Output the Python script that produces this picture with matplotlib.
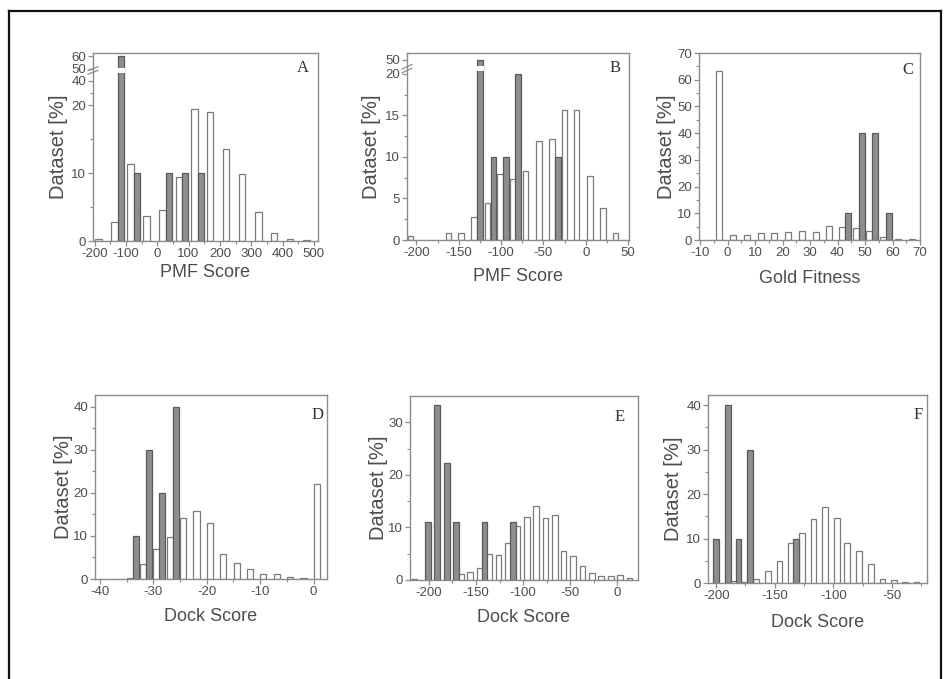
import numpy as np
import matplotlib
matplotlib.use("Agg")
import matplotlib.pyplot as plt
from matplotlib.ticker import FixedLocator
from matplotlib.transforms import blended_transform_factory
from matplotlib.lines import Line2D

# ---------------- data ----------------
A_white_x = [-188, -137, -86, -35, 16, 69, 118, 169, 220, 271, 323, 373, 424, 476]
A_white_y = [0.3, 2.8, 11.4, 3.7, 4.6, 9.5, 19.4, 19.0, 13.6, 9.8, 4.2, 1.2, 0.3, 0.2]
A_dark_x = [-116, -65, 37, 88, 139]
A_dark_y = [60, 10, 10, 10, 10]

B_white_x = [-207, -162, -147, -132, -116, -101, -86, -71, -55, -40, -25, -11, 5, 20, 35]
B_white_y = [0.5, 0.8, 0.8, 2.8, 4.5, 7.9, 7.3, 8.3, 11.9, 12.1, 15.7, 15.7, 7.7, 3.9, 0.8]
B_dark_x = [-125, -109, -94, -80, -33]
B_dark_y = [50, 10, 10, 20, 10]

C_white_x = [-3, 2, 7, 12, 17, 22, 27, 32, 37, 41.6, 46.8, 51.4, 56.5, 62, 67]
C_white_y = [63.4, 1.9, 1.9, 2.5, 2.5, 3.0, 3.5, 3.1, 5.1, 4.8, 4.4, 3.5, 1.2, 0.3, 0.3]
C_dark_x = [43.8, 48.8, 53.8, 58.8]
C_dark_y = [10, 40, 40, 10]

D_white_x = [-39.4, -36.9, -34.4, -31.9, -29.4, -26.9, -24.4, -21.9, -19.4, -16.9,
             -14.4, -11.9, -9.4, -6.9, -4.4, -1.9, 0.6]
D_white_y = [0.1, 0.1, 0.3, 3.5, 7.0, 9.7, 14.2, 15.7, 13.1, 5.8, 3.7, 2.3, 1.1, 1.1, 0.5, 0.3, 22.1]
D_dark_x = [-33.3, -30.8, -28.3, -25.8]
D_dark_y = [10, 30, 20, 40]

E_white_x = [-216, -166, -156, -146, -136, -126, -116, -106, -96, -86, -76, -66, -57, -47,
             -37, -27, -17, -7, 3, 13]
E_white_y = [0.2, 1.2, 1.6, 2.2, 5.0, 4.8, 7.1, 10.2, 11.9, 14.0, 11.7, 12.4, 5.6, 4.5,
             2.7, 1.3, 0.8, 0.7, 0.9, 0.3]
E_dark_x = [-201, -191, -181, -171, -141, -111]
E_dark_y = [11.1, 33.3, 22.2, 11.1, 11.1, 11.1]

F_white_x = [-185, -176, -166, -156, -146, -136, -127, -117, -107, -97, -88, -78, -68,
             -58, -48, -39, -29]
F_white_y = [0.5, 0.3, 1.0, 2.6, 4.9, 8.9, 11.3, 14.5, 17.2, 14.7, 9.1, 7.2, 4.2,
             0.9, 0.6, 0.2, 0.2]
F_dark_x = [-200, -190, -181, -171, -132]
F_dark_y = [10, 40, 10, 30, 10]

# ---------------- style ----------------
W, H = 948, 679
TXT = "#4d4d4d"
SPINE = "#8c8c8c"
DARK_FACE = "#8e8e8e"
DARK_EDGE = "#5a5a5a"
WHITE_EDGE = "#7a7a7a"
SANS = ["Liberation Sans", "DejaVu Sans"]
SERIF = ["Liberation Serif", "DejaVu Serif"]

plt.rcParams["font.family"] = SANS

fig = plt.figure(figsize=(W / 100, H / 100), dpi=100)
fig.patch.set_facecolor("white")

# outer frame
fr = dict(color="#111111", lw=1.6, transform=fig.transFigure)
fig.add_artist(Line2D([9 / W, 9 / W], [0, 1 - 11 / H], **fr))
fig.add_artist(Line2D([9 / W, 941 / W], [1 - 11 / H, 1 - 11 / H], **fr))
fig.add_artist(Line2D([941 / W, 941 / W], [0, 1 - 11 / H], **fr))


def make_axes(L, R, T, B):
    return fig.add_axes([L / W, 1 - B / H, (R - L) / W, (B - T) / H])


def piecewise(th, k):
    def fwd(y):
        y = np.asarray(y, float)
        return np.where(y <= th, y, th + (y - th) * k)

    def inv(z):
        z = np.asarray(z, float)
        return np.where(z <= th, z, th + (z - th) / k)
    return fwd, inv


def panel(rect, wx, wy, dx, dy, width, xlim, xticks, xminor, ylim, yticks, yminor,
          xlabel, letter, xlab_off, ylab_off, letter_off, scale=None, ytl=None):
    L, R, T, B = rect
    ax = make_axes(L, R, T, B)
    wpx, hpx = R - L, B - T
    if scale is not None:
        ax.set_yscale("function", functions=scale)
    ax.bar(wx, wy, width=width, color="white", edgecolor=WHITE_EDGE, linewidth=0.9, zorder=2)
    ax.bar(dx, dy, width=width, color=DARK_FACE, edgecolor=DARK_EDGE, linewidth=0.9, zorder=2)
    ax.set_xlim(*xlim)
    ax.set_ylim(*ylim)
    ax.xaxis.set_major_locator(FixedLocator(xticks))
    ax.xaxis.set_minor_locator(FixedLocator(xminor))
    ax.yaxis.set_major_locator(FixedLocator(yticks))
    ax.yaxis.set_minor_locator(FixedLocator(yminor))
    ax.set_xticklabels([f"{t:g}" for t in xticks])
    ax.set_yticklabels(ytl if ytl is not None else [f"{t:g}" for t in yticks])
    for s in ax.spines.values():
        s.set_color(SPINE)
        s.set_linewidth(1.0)
    ax.tick_params(axis="both", which="major", direction="out", length=3.5, width=0.9,
                   color=SPINE, labelsize=9.5, labelcolor=TXT, pad=1.5)
    ax.tick_params(axis="both", which="minor", direction="out", length=2, width=0.8,
                   color=SPINE)
    ax.set_xlabel(xlabel, fontsize=13, color=TXT)
    ax.set_ylabel("Dataset [%]", fontsize=14.5, color=TXT)
    ax.xaxis.set_label_coords(0.5, -xlab_off / hpx)
    ax.yaxis.set_label_coords(-ylab_off / wpx, 0.5)
    ax.text(1 - letter_off[0] / wpx, 1 - letter_off[1] / hpx, letter, transform=ax.transAxes,
            ha="center", va="center", fontsize=12, color="#333333", family=SERIF)
    return ax


def add_break(ax, xc, w, y0, y1, marks):
    # white gap through the tall bar
    ax.bar([xc], [y1 - y0], bottom=[y0], width=w * 1.4, color="white", edgecolor="none", zorder=3)
    tr = blended_transform_factory(ax.transAxes, ax.transData)
    for (a, b) in marks:
        ax.plot([-0.022, 0.022], [a, b], transform=tr, color=SPINE, lw=0.9, clip_on=False, zorder=5)


# Panel A
fA = piecewise(20, 0.18)
axA = panel((93, 318, 53, 241), A_white_x, A_white_y, A_dark_x, A_dark_y, 21,
            (-205, 513), list(range(-200, 501, 100)), list(range(-150, 501, 100)),
            (0, 62.8), [0, 10, 20, 40, 50, 60], [5, 15, 30],
            "PMF Score", "A", 23, 25, (15, 15), scale=fA)
add_break(axA, A_dark_x[0], 21, 46.5, 50.5, [(45.5, 48.5), (48.5, 51.5)])

# Panel B
fB = piecewise(20, 0.056)
axB = panel((407, 629, 53, 240), B_white_x, B_white_y, B_dark_x, B_dark_y, 6.7,
            (-211, 51), list(range(-200, 51, 50)), list(range(-175, 51, 50)),
            (0, 64.6), [0, 5, 10, 15, 20, 50], [2.5, 7.5, 12.5, 17.5],
            "PMF Score", "B", 28, 26, (14, 15), scale=fB)
add_break(axB, B_dark_x[0], 6.7, 26, 36, [(22, 32), (30, 40)])

# Panel C
axC = panel((699, 920, 53, 240), C_white_x, C_white_y, C_dark_x, C_dark_y, 2.2,
            (-10.4, 70), list(range(-10, 71, 10)), list(range(-5, 71, 10)),
            (0, 70), list(range(0, 71, 10)), list(range(5, 71, 10)),
            "Gold Fitness", "C", 30, 23, (12, 17))

# Panel D
axD = panel((95, 327, 395, 579), D_white_x, D_white_y, D_dark_x, D_dark_y, 1.15,
            (-40.9, 2.5), [-40, -30, -20, -10, 0], [-35, -25, -15, -5],
            (0, 42.7), [0, 10, 20, 30, 40], [5, 15, 25, 35],
            "Dock Score", "D", 29, 22, (9, 20))

# Panel E
axE = panel((410, 638, 396, 580), E_white_x, E_white_y, E_dark_x, E_dark_y, 6.0,
            (-220, 22), [-200, -150, -100, -50, 0], [-175, -125, -75, -25],
            (0, 35), [0, 10, 20, 30], [5, 15, 25],
            "Dock Score", "E", 29, 22, (18, 21))

# Panel F
axF = panel((708, 927, 395, 583), F_white_x, F_white_y, F_dark_x, F_dark_y, 4.9,
            (-207, -20), [-200, -150, -100, -50], [-175, -125, -75, -25],
            (0, 42.3), [0, 10, 20, 30, 40], [5, 15, 25, 35],
            "Dock Score", "F", 31, 25, (9, 20))

fig.savefig("out.png", dpi=100, facecolor="white")
